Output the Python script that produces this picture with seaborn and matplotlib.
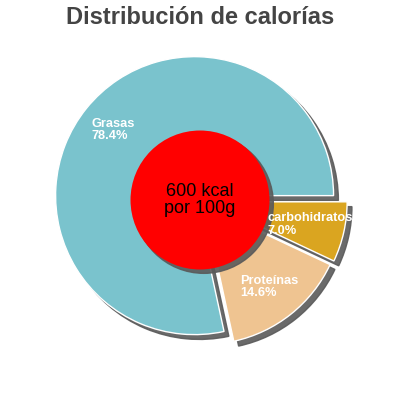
import matplotlib
matplotlib.use("Agg")
import matplotlib.pyplot as plt
import matplotlib.patches as mpatches
import seaborn as sns

# Datos
categorias = ["Grasas", "Proteínas", "carbohidratos"]
porcentajes = [78.4, 14.6, 7.0]
colores = ["#7AC3CD", "#EFC491", "#DAA520"]
texto_centro = "600 kcal\npor 100g"
titulo = "Distribución de calorías"

sns.set_style("white")
plt.rcParams['font.family'] = ['Liberation Sans', 'DejaVu Sans']

fig = plt.figure(figsize=(4, 4), dpi=100)
ax = fig.add_axes([0, 0, 1, 1])

etiquetas = [f"{c}\n{p:.1f}%" for c, p in zip(categorias, porcentajes)]
sombra = {'ox': 0.025, 'oy': -0.025, 'facecolor': '#5a5a5a',
          'edgecolor': '#5a5a5a', 'alpha': 0.9}

wedges, texts = ax.pie(porcentajes, labels=etiquetas, colors=colores,
                       startangle=0, counterclock=True,
                       explode=[0.05, 0.05, 0.06], labeldistance=0.75,
                       shadow=sombra,
                       textprops=dict(color='white', fontsize=9.2, fontweight='bold'))
for t in texts:
    t.set_horizontalalignment('center')
    t.set_verticalalignment('center')
    t.set_multialignment('left')
    t.set_linespacing(1.05)

# Círculo central con sombra
circulo = mpatches.Circle((0, 0), 0.5, facecolor='#FF0000', edgecolor='none', zorder=3)
ax.add_patch(mpatches.Shadow(circulo, 0.02, -0.02, facecolor='#5a5a5a',
                             edgecolor='#5a5a5a', alpha=0.9, zorder=2.9))
ax.add_patch(circulo)
ax.text(0, 0, texto_centro, ha='center', va='center', fontsize=13,
        color='black', zorder=4, linespacing=1.0)

ax.set_xlim(-1.439, 1.439)
ax.set_ylim(-1.439, 1.439)
ax.set_aspect('equal')
ax.axis('off')

fig.text(0.5, 0.955, titulo, ha='center', va='center', fontsize=17,
         fontweight='bold', color='#444444')

fig.savefig("out.png", dpi=100)
